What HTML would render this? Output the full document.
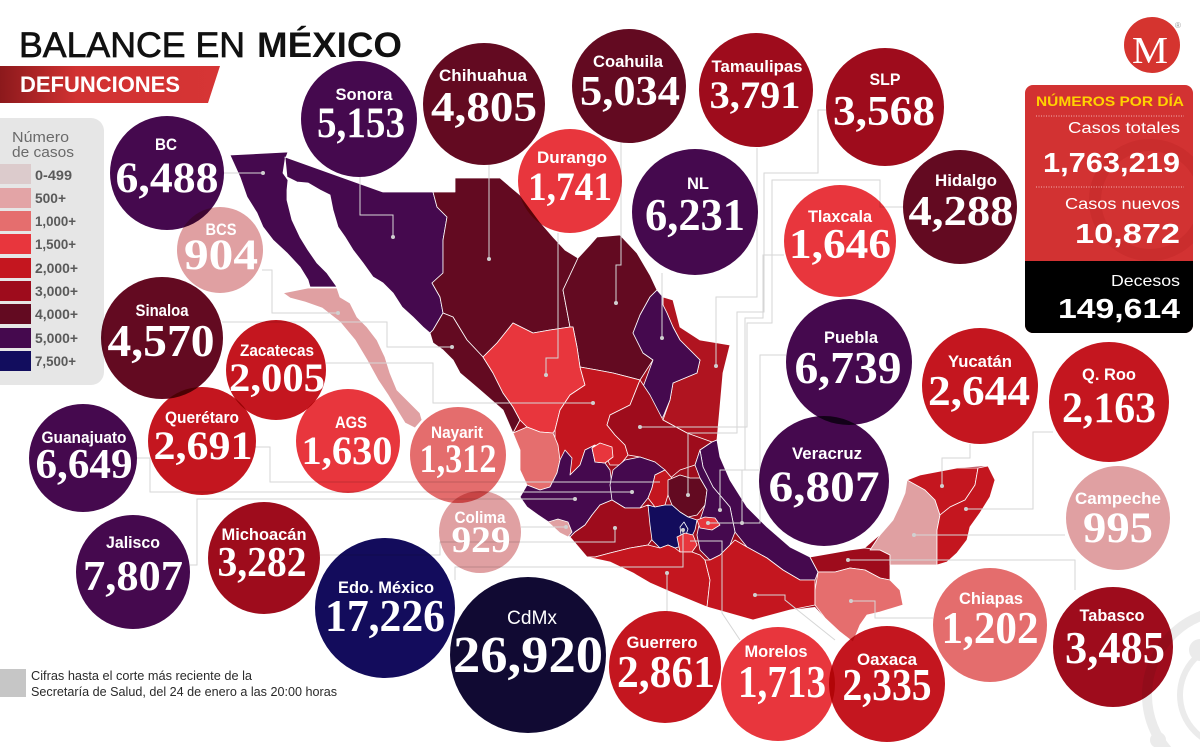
<!DOCTYPE html>
<html><head><meta charset="utf-8"><style>
html,body{margin:0;padding:0;background:#fff;}
svg{display:block;}
.lab{font-family:"Liberation Sans",sans-serif;font-weight:bold;fill:#fff;text-anchor:middle;}
.num{font-family:"Liberation Serif",serif;font-weight:bold;fill:#fff;text-anchor:middle;}
.st{stroke:#fff;stroke-width:0.8;stroke-linejoin:round;}
.ln{fill:none;stroke:#d6d6d6;stroke-width:1;}
.c{mix-blend-mode:multiply;}
.leg{font-family:"Liberation Sans",sans-serif;font-weight:bold;fill:#5a5a5a;font-size:14px;}
</style></head><body>
<svg width="1200" height="747" viewBox="0 0 1200 747" xmlns="http://www.w3.org/2000/svg">
<defs>
<linearGradient id="bg" x1="0" y1="0" x2="1" y2="0">
<stop offset="0" stop-color="#8c191c"/><stop offset="0.35" stop-color="#d13232"/><stop offset="1" stop-color="#d63535"/>
</linearGradient>
<clipPath id="pc"><rect x="1025" y="85" width="168" height="248" rx="8"/></clipPath>
</defs>

<!-- bottom-right faint graphic -->
<circle cx="1232" cy="695" r="85" fill="none" stroke="#ebebeb" stroke-width="10"/>
<circle cx="1232" cy="695" r="52" fill="none" stroke="#ebebeb" stroke-width="6"/>
<circle cx="1200" cy="650" r="11" fill="#ebebeb"/>
<circle cx="1158" cy="740" r="8" fill="#ebebeb"/>

<!-- title -->
<text x="19" y="57" font-family="Liberation Sans, sans-serif" font-size="35" fill="#111" stroke="#111" stroke-width="0.7" textLength="226" lengthAdjust="spacingAndGlyphs">BALANCE EN</text>
<text x="257" y="57" font-family="Liberation Sans, sans-serif" font-weight="bold" font-size="35" fill="#111" textLength="145" lengthAdjust="spacingAndGlyphs">MÉXICO</text>
<polygon points="0,66 220,66 208,103 0,103" fill="url(#bg)"/>
<text x="20" y="92" font-family="Liberation Sans, sans-serif" font-weight="bold" font-size="22" fill="#fff" textLength="160" lengthAdjust="spacingAndGlyphs">DEFUNCIONES</text>

<!-- legend -->
<rect x="-20" y="118" width="124" height="267" rx="13" fill="#e6e6e6"/>
<text x="12" y="142" font-family="Liberation Sans, sans-serif" font-size="15" fill="#6a6a6a" textLength="57" lengthAdjust="spacingAndGlyphs">Número</text>
<text x="12" y="157" font-family="Liberation Sans, sans-serif" font-size="15" fill="#6a6a6a" textLength="62" lengthAdjust="spacingAndGlyphs">de casos</text>
<rect x="0" y="164" width="31" height="20" fill="#dccbcc"/>
<rect x="0" y="188" width="31" height="20" fill="#e3a4a6"/>
<rect x="0" y="211" width="31" height="20" fill="#e56e6e"/>
<rect x="0" y="234" width="31" height="20" fill="#e8363d"/>
<rect x="0" y="258" width="31" height="20" fill="#c4161f"/>
<rect x="0" y="281" width="31" height="20" fill="#9e0c1c"/>
<rect x="0" y="304" width="31" height="20" fill="#630a21"/>
<rect x="0" y="328" width="31" height="20" fill="#45094e"/>
<rect x="0" y="351" width="31" height="20" fill="#120d5e"/>
<text class="leg" x="35" y="180" textLength="37" lengthAdjust="spacingAndGlyphs">0-499</text>
<text class="leg" x="35" y="203" textLength="31" lengthAdjust="spacingAndGlyphs">500+</text>
<text class="leg" x="35" y="226" textLength="41" lengthAdjust="spacingAndGlyphs">1,000+</text>
<text class="leg" x="35" y="249" textLength="41" lengthAdjust="spacingAndGlyphs">1,500+</text>
<text class="leg" x="35" y="273" textLength="43" lengthAdjust="spacingAndGlyphs">2,000+</text>
<text class="leg" x="35" y="296" textLength="43" lengthAdjust="spacingAndGlyphs">3,000+</text>
<text class="leg" x="35" y="319" textLength="43" lengthAdjust="spacingAndGlyphs">4,000+</text>
<text class="leg" x="35" y="343" textLength="43" lengthAdjust="spacingAndGlyphs">5,000+</text>
<text class="leg" x="35" y="366" textLength="41" lengthAdjust="spacingAndGlyphs">7,500+</text>

<!-- MAP -->
<g>
<polygon fill="#9e0c1c" points="285,157 383,192 455,192 455,178 500,178 520,195 540,222 553,237 565,250 578,258 590,245 597,237 620,235 637,253 650,275 657,290 663,297 673,300 680,327 700,340 730,345 723,373 720,407 717,440 720,457 730,480 747,507 767,527 790,547 810,557 833,553 850,550 865,548 880,535 893,520 900,505 905,493 907,480 920,475 957,468 988,466 995,480 990,497 980,513 970,527 967,540 957,553 947,562 937,565 890,565 890,580 900,590 903,605 880,612 867,615 860,625 853,642 840,632 825,618 815,607 790,610 753,620 707,607 690,600 673,593 650,583 633,573 610,562 587,557 570,537 560,532 548,522 538,515 527,507 520,497 527,485 520,470 520,450 513,433 503,410 480,390 460,373 453,360 443,350 433,343 430,333 423,327 413,317 402,307 393,293 383,283 373,277 363,263 353,250 345,237 338,227 333,210 330,195 320,190 308,183 297,182 287,177"/>
<polygon class="st" fill="#45094e" points="230,155 288,152 285,160 283,173 288,180 287,190 287,200 292,220 300,237 308,250 317,263 327,273 337,287 310,287 308,280 300,267 287,253 273,240 263,227 257,213 247,197 240,177"/>
<polygon class="st" fill="#e0a0a2" points="283,293 308,288 337,288 340,297 350,303 357,317 367,327 377,340 385,357 390,373 397,390 410,403 420,413 422,420 415,428 405,423 397,410 388,395 378,380 367,360 355,340 340,322 322,308 305,302 290,298"/>
<polygon class="st" fill="#45094e" points="285,157 383,192 433,192 437,207 447,217 443,240 443,273 432,283 440,297 443,313 433,330 430,333 423,327 413,317 402,307 393,293 383,283 373,277 363,263 353,250 345,237 338,227 333,210 330,195 320,190 308,183 297,182 287,177"/>
<polygon class="st" fill="#630a21" points="433,192 455,192 455,178 500,178 520,195 540,222 553,237 565,250 578,258 563,290 570,327 550,330 533,333 513,323 497,343 483,357 467,340 453,317 443,313 440,297 432,283 443,273 443,240 447,217 437,207"/>
<polygon class="st" fill="#630a21" points="430,333 433,330 443,313 453,317 467,340 483,357 493,373 503,393 513,407 520,420 513,433 503,410 480,390 460,373 453,360 443,350 433,343"/>
<polygon class="st" fill="#630a21" points="578,258 590,245 597,237 620,235 637,253 650,275 657,290 650,297 640,315 633,333 643,353 653,360 640,380 613,373 597,370 580,367 577,347 573,327 570,327 563,290"/>
<polygon class="st" fill="#e8363d" points="483,357 497,343 513,323 533,333 550,330 570,327 573,327 577,347 580,367 585,385 570,395 560,410 555,430 553,433 540,432 527,427 520,420 513,407 503,393 493,373"/>
<polygon class="st" fill="#b01420" points="663,297 673,300 680,327 700,340 730,345 723,373 720,407 717,440 712,442 700,440 687,433 663,420 670,400 673,383 697,373 700,360 680,340 673,327 667,313 663,305"/>
<polygon class="st" fill="#45094e" points="657,290 663,297 663,305 667,313 673,327 680,340 700,360 697,373 673,383 670,400 663,417 650,420 647,400 643,387 653,360 643,353 633,333 640,315 650,297"/>
<polygon class="st" fill="#c4161f" points="580,367 597,370 613,373 640,380 630,405 610,415 607,425 615,435 625,445 628,455 620,465 610,465 605,455 595,445 585,450 580,465 570,475 560,465 555,445 555,430 560,410 570,395 585,385"/>
<polygon class="st" fill="#9e0c1c" points="640,380 650,395 663,420 687,433 712,442 700,450 695,465 680,470 668,480 665,470 655,462 640,457 628,455 625,445 615,435 607,425 610,415 630,405"/>
<polygon class="st" fill="#e56e6e" points="513,433 527,427 540,432 553,433 558,445 560,460 557,473 550,487 540,490 527,485 520,470 520,450"/>
<polygon class="st" fill="#45094e" points="520,497 527,485 540,490 550,487 557,473 560,460 565,450 572,458 570,475 580,465 585,450 595,445 592,448 595,462 605,463 610,470 612,485 612,500 600,505 592,515 585,525 575,532 570,537 560,530 550,523 538,515 527,507"/>
<polygon class="st" fill="#e8363d" points="592,448 600,443 612,447 613,457 605,463 595,462"/>
<polygon class="st" fill="#45094e" points="613,470 625,460 640,457 655,462 665,470 655,475 652,488 648,498 640,508 625,508 612,500 610,485"/>
<polygon class="st" fill="#c4161f" points="655,475 665,470 672,478 668,495 665,505 655,507 648,498 652,488"/>
<polygon class="st" fill="#630a21" points="668,480 680,475 690,478 700,478 707,490 705,505 697,515 688,517 680,512 672,505 668,495"/>
<polygon class="st" fill="#9e0c1c" points="570,537 575,532 585,525 592,515 600,505 612,500 625,508 640,508 648,505 650,520 655,535 648,545 630,548 610,553 595,557 587,557"/>
<polygon class="st" fill="#e0a0a2" points="548,522 558,519 568,522 572,532 568,537 560,533"/>
<polygon class="st" fill="#45094e" points="712,442 717,440 720,457 730,480 747,507 767,527 790,547 810,557 818,572 815,580 800,580 783,570 767,558 747,547 735,532 730,507 713,487 703,467 700,450"/>
<polygon class="st" fill="#45094e" points="700,450 703,467 713,487 730,507 735,532 730,545 720,555 710,560 700,550 697,535 700,520 705,505 707,490 700,478 695,465"/>
<polygon class="st" fill="#130c5c" points="648,505 655,507 665,505 672,505 680,512 688,517 697,520 695,530 690,540 685,545 675,548 668,545 660,548 652,540 650,525"/>
<polygon class="st" fill="#130c5c" points="680,527 684,522 688,529 686,535 681,535"/>
<polygon class="st" fill="#e8363d" points="677,537 685,533 693,535 697,545 692,552 680,552"/>
<polygon class="st" fill="#e8363d" points="697,520 705,517 715,518 720,525 712,530 700,528"/>
<polygon class="st" fill="#c4161f" points="587,557 595,557 610,553 630,548 648,545 660,548 668,545 675,548 680,552 692,552 700,555 705,560 710,580 707,607 690,600 673,593 650,583 633,573 610,562"/>
<polygon class="st" fill="#c4161f" points="705,560 710,560 720,555 730,545 735,540 747,547 767,558 783,570 800,580 815,580 815,590 815,605 790,610 753,620 707,607 710,580"/>
<polygon class="st" fill="#9e0c1c" points="810,557 833,553 850,550 865,548 880,550 890,555 890,580 880,578 865,570 850,568 835,572 818,572"/>
<polygon class="st" fill="#e56e6e" points="818,572 835,572 850,568 865,570 880,578 890,580 900,590 903,605 880,612 867,615 860,625 853,642 840,632 825,618 815,605 815,590"/>
<polygon class="st" fill="#e0a0a2" points="907,480 920,475 925,490 935,500 940,515 937,530 937,565 890,565 890,555 880,550 870,550 880,535 893,520 900,505 905,493"/>
<polygon class="st" fill="#c4161f" points="907,480 920,475 957,468 978,468 975,485 965,500 950,507 940,515 935,500 925,490"/>
<polygon class="st" fill="#c4161f" points="978,468 988,466 995,480 990,497 980,513 970,527 967,540 957,553 947,562 937,565 937,530 940,515 950,507 965,500 975,485"/>
</g>

<!-- connector lines -->
<g class="ln">
<polyline points="224,173 263,173"/>
<polyline points="360,177 360,215 393,215 393,237"/>
<polyline points="489,165 489,259"/>
<polyline points="262,270 272,270 272,313 338,313"/>
<polyline points="222,322 387,322 387,347 452,347"/>
<polyline points="558,233 558,358 546,358 546,375"/>
<polyline points="621,142 621,265 616,265 616,303"/>
<polyline points="662,273 662,338"/>
<polyline points="326,363 433,363 433,403 593,403"/>
<polyline points="757,148 757,297 716,297 716,366"/>
<polyline points="826,110 818,110 818,173 764,173 764,312 737,312 737,433 688,433 688,495"/>
<polyline points="903,207 880,207 880,180 772,180 772,323 747,323 747,427 640,427"/>
<polyline points="784,255 763,255 763,318 745,318 745,470 720,470 720,510"/>
<polyline points="786,355 760,355 760,523 708,523"/>
<polyline points="759,470 742,470 742,523"/>
<polyline points="137,458 150,458 150,492 632,492"/>
<polyline points="255,447 270,447 270,482 660,482"/>
<polyline points="190,565 197,565 197,499 575,499"/>
<polyline points="320,555 440,555 440,542 615,542 615,528"/>
<polyline points="521,527 566,527"/>
<polyline points="455,580 455,567 683,567 683,530"/>
<polyline points="667,573 667,612"/>
<polyline points="690,541 722,541 722,613 740,640"/>
<polyline points="755,595 785,595 785,600 835,640"/>
<polyline points="851,601 875,601 875,618 933,618"/>
<polyline points="914,535 1065,535"/>
<polyline points="966,509 1033,509 1033,432 1053,432"/>
<polyline points="942,486 942,458 970,458 970,444"/>
<polyline points="848,560 1075,560 1075,590"/>
</g>
<g fill="#d0d0d0">
<circle cx="263" cy="173" r="2"/><circle cx="393" cy="237" r="2"/><circle cx="489" cy="259" r="2"/>
<circle cx="338" cy="313" r="2"/><circle cx="452" cy="347" r="2"/><circle cx="546" cy="375" r="2"/>
<circle cx="616" cy="303" r="2"/><circle cx="662" cy="338" r="2"/><circle cx="593" cy="403" r="2"/>
<circle cx="716" cy="366" r="2"/><circle cx="688" cy="495" r="2"/><circle cx="640" cy="427" r="2"/>
<circle cx="632" cy="492" r="2"/><circle cx="575" cy="499" r="2"/><circle cx="615" cy="528" r="2"/>
<circle cx="566" cy="527" r="2"/><circle cx="683" cy="530" r="2"/><circle cx="667" cy="573" r="2"/>
<circle cx="755" cy="595" r="2"/><circle cx="851" cy="601" r="2"/><circle cx="914" cy="535" r="2"/>
<circle cx="966" cy="509" r="2"/><circle cx="942" cy="486" r="2"/><circle cx="848" cy="560" r="2"/>
<circle cx="708" cy="523" r="2"/><circle cx="742" cy="523" r="2"/><circle cx="720" cy="510" r="2"/>
</g>

<!-- circles -->
<g>
<circle class="c" cx="167" cy="173" r="57" fill="#45094e"/>
<circle class="c" cx="359" cy="119" r="58" fill="#45094e"/>
<circle class="c" cx="220" cy="250" r="43" fill="#e0a0a2"/>
<circle class="c" cx="162" cy="338" r="61" fill="#630a21"/>
<circle class="c" cx="276" cy="370" r="50" fill="#c4161f"/>
<circle class="c" cx="348" cy="441" r="52" fill="#e8363d"/>
<circle class="c" cx="458" cy="455" r="48" fill="#e46d6d"/>
<circle class="c" cx="480" cy="532" r="41" fill="#e0a0a2"/>
<circle class="c" cx="570" cy="181" r="52" fill="#e8363d"/>
<circle class="c" cx="695" cy="212" r="63" fill="#45094e"/>
<circle class="c" cx="484" cy="104" r="61" fill="#630a21"/>
<circle class="c" cx="629" cy="86" r="57" fill="#630a21"/>
<circle class="c" cx="756" cy="90" r="57" fill="#9e0c1c"/>
<circle class="c" cx="885" cy="107" r="59" fill="#9e0c1c"/>
<circle class="c" cx="960" cy="207" r="57" fill="#630a21"/>
<circle class="c" cx="840" cy="241" r="56" fill="#e8363d"/>
<circle class="c" cx="849" cy="362" r="63" fill="#45094e"/>
<circle class="c" cx="824" cy="481" r="65" fill="#45094e"/>
<circle class="c" cx="980" cy="386" r="58" fill="#c4161f"/>
<circle class="c" cx="1109" cy="402" r="60" fill="#c4161f"/>
<circle class="c" cx="1118" cy="518" r="52" fill="#e0a0a2"/>
<circle class="c" cx="990" cy="625" r="57" fill="#e46d6d"/>
<circle class="c" cx="1113" cy="647" r="60" fill="#9e0c1c"/>
<circle class="c" cx="887" cy="684" r="58" fill="#c4161f"/>
<circle class="c" cx="778" cy="684" r="57" fill="#e8363d"/>
<circle class="c" cx="665" cy="667" r="56" fill="#c4161f"/>
<circle class="c" cx="528" cy="655" r="78" fill="#110a33"/>
<circle class="c" cx="385" cy="608" r="70" fill="#130c5c"/>
<circle class="c" cx="264" cy="558" r="56" fill="#9e0c1c"/>
<circle class="c" cx="133" cy="572" r="57" fill="#45094e"/>
<circle class="c" cx="83" cy="458" r="54" fill="#45094e"/>
<circle class="c" cx="202" cy="441" r="54" fill="#c4161f"/>
</g>

<!-- labels -->
<g>
<text class="lab" x="166" y="150" font-size="17" textLength="22" lengthAdjust="spacingAndGlyphs">BC</text>
<text class="num" x="167" y="192" font-size="43" textLength="103" lengthAdjust="spacingAndGlyphs">6,488</text>
<text class="lab" x="364" y="100" font-size="17" textLength="57" lengthAdjust="spacingAndGlyphs">Sonora</text>
<text class="num" x="361" y="137" font-size="43" textLength="88" lengthAdjust="spacingAndGlyphs">5,153</text>
<text class="lab" x="221" y="235" font-size="17" textLength="31" lengthAdjust="spacingAndGlyphs">BCS</text>
<text class="num" x="221" y="269" font-size="43" textLength="74" lengthAdjust="spacingAndGlyphs">904</text>
<text class="lab" x="162" y="316" font-size="17" textLength="53" lengthAdjust="spacingAndGlyphs">Sinaloa</text>
<text class="num" x="161" y="356" font-size="46" textLength="107" lengthAdjust="spacingAndGlyphs">4,570</text>
<text class="lab" x="277" y="356" font-size="17" textLength="74" lengthAdjust="spacingAndGlyphs">Zacatecas</text>
<text class="num" x="277" y="391" font-size="40" textLength="96" lengthAdjust="spacingAndGlyphs">2,005</text>
<text class="lab" x="351" y="428" font-size="17" textLength="32" lengthAdjust="spacingAndGlyphs">AGS</text>
<text class="num" x="347" y="464" font-size="40" textLength="91" lengthAdjust="spacingAndGlyphs">1,630</text>
<text class="lab" x="457" y="438" font-size="17" textLength="52" lengthAdjust="spacingAndGlyphs">Nayarit</text>
<text class="num" x="458" y="472" font-size="40" textLength="77" lengthAdjust="spacingAndGlyphs">1,312</text>
<text class="lab" x="480" y="523" font-size="17" textLength="51" lengthAdjust="spacingAndGlyphs">Colima</text>
<text class="num" x="481" y="552" font-size="37" textLength="59" lengthAdjust="spacingAndGlyphs">929</text>
<text class="lab" x="572" y="163" font-size="17" textLength="70" lengthAdjust="spacingAndGlyphs">Durango</text>
<text class="num" x="570" y="200" font-size="40" textLength="84" lengthAdjust="spacingAndGlyphs">1,741</text>
<text class="lab" x="698" y="189" font-size="17" textLength="22" lengthAdjust="spacingAndGlyphs">NL</text>
<text class="num" x="695" y="230" font-size="45" textLength="100" lengthAdjust="spacingAndGlyphs">6,231</text>
<text class="lab" x="483" y="81" font-size="17" textLength="88" lengthAdjust="spacingAndGlyphs">Chihuahua</text>
<text class="num" x="484" y="121" font-size="42" textLength="106" lengthAdjust="spacingAndGlyphs">4,805</text>
<text class="lab" x="628" y="67" font-size="17" textLength="70" lengthAdjust="spacingAndGlyphs">Coahuila</text>
<text class="num" x="630" y="105" font-size="42" textLength="100" lengthAdjust="spacingAndGlyphs">5,034</text>
<text class="lab" x="757" y="72" font-size="17" textLength="91" lengthAdjust="spacingAndGlyphs">Tamaulipas</text>
<text class="num" x="755" y="108" font-size="39" textLength="91" lengthAdjust="spacingAndGlyphs">3,791</text>
<text class="lab" x="885" y="85" font-size="17" textLength="31" lengthAdjust="spacingAndGlyphs">SLP</text>
<text class="num" x="884" y="125" font-size="42" textLength="102" lengthAdjust="spacingAndGlyphs">3,568</text>
<text class="lab" x="966" y="186" font-size="17" textLength="62" lengthAdjust="spacingAndGlyphs">Hidalgo</text>
<text class="num" x="961" y="225" font-size="42" textLength="105" lengthAdjust="spacingAndGlyphs">4,288</text>
<text class="lab" x="840" y="222" font-size="17" textLength="64" lengthAdjust="spacingAndGlyphs">Tlaxcala</text>
<text class="num" x="840" y="258" font-size="42" textLength="102" lengthAdjust="spacingAndGlyphs">1,646</text>
<text class="lab" x="851" y="343" font-size="17" textLength="54" lengthAdjust="spacingAndGlyphs">Puebla</text>
<text class="num" x="848" y="383" font-size="46" textLength="107" lengthAdjust="spacingAndGlyphs">6,739</text>
<text class="lab" x="827" y="459" font-size="17" textLength="70" lengthAdjust="spacingAndGlyphs">Veracruz</text>
<text class="num" x="824" y="501" font-size="43" textLength="111" lengthAdjust="spacingAndGlyphs">6,807</text>
<text class="lab" x="980" y="367" font-size="17" textLength="64" lengthAdjust="spacingAndGlyphs">Yucatán</text>
<text class="num" x="979" y="405" font-size="42" textLength="102" lengthAdjust="spacingAndGlyphs">2,644</text>
<text class="lab" x="1109" y="380" font-size="17" textLength="54" lengthAdjust="spacingAndGlyphs">Q. Roo</text>
<text class="num" x="1109" y="422" font-size="43" textLength="94" lengthAdjust="spacingAndGlyphs">2,163</text>
<text class="lab" x="1118" y="504" font-size="17" textLength="86" lengthAdjust="spacingAndGlyphs">Campeche</text>
<text class="num" x="1118" y="542" font-size="43" textLength="70" lengthAdjust="spacingAndGlyphs">995</text>
<text class="lab" x="991" y="604" font-size="17" textLength="64" lengthAdjust="spacingAndGlyphs">Chiapas</text>
<text class="num" x="990" y="643" font-size="45" textLength="97" lengthAdjust="spacingAndGlyphs">1,202</text>
<text class="lab" x="1112" y="621" font-size="17" textLength="65" lengthAdjust="spacingAndGlyphs">Tabasco</text>
<text class="num" x="1115" y="663" font-size="45" textLength="100" lengthAdjust="spacingAndGlyphs">3,485</text>
<text class="lab" x="887" y="665" font-size="17" textLength="60" lengthAdjust="spacingAndGlyphs">Oaxaca</text>
<text class="num" x="887" y="700" font-size="45" textLength="89" lengthAdjust="spacingAndGlyphs">2,335</text>
<text class="lab" x="776" y="657" font-size="17" textLength="63" lengthAdjust="spacingAndGlyphs">Morelos</text>
<text class="num" x="782" y="697" font-size="45" textLength="88" lengthAdjust="spacingAndGlyphs">1,713</text>
<text class="lab" x="662" y="648" font-size="17" textLength="71" lengthAdjust="spacingAndGlyphs">Guerrero</text>
<text class="num" x="666" y="687" font-size="45" textLength="98" lengthAdjust="spacingAndGlyphs">2,861</text>
<text x="532" y="624" font-family="Liberation Sans, sans-serif" font-size="19" fill="#fff" text-anchor="middle" textLength="50" lengthAdjust="spacingAndGlyphs">CdMx</text>
<text class="num" x="528" y="672" font-size="52" textLength="150" lengthAdjust="spacingAndGlyphs">26,920</text>
<text class="lab" x="386" y="593" font-size="17" textLength="96" lengthAdjust="spacingAndGlyphs">Edo. México</text>
<text class="num" x="385" y="631" font-size="46" textLength="120" lengthAdjust="spacingAndGlyphs">17,226</text>
<text class="lab" x="264" y="540" font-size="17" textLength="85" lengthAdjust="spacingAndGlyphs">Michoacán</text>
<text class="num" x="262" y="576" font-size="42" textLength="89" lengthAdjust="spacingAndGlyphs">3,282</text>
<text class="lab" x="133" y="548" font-size="17" textLength="54" lengthAdjust="spacingAndGlyphs">Jalisco</text>
<text class="num" x="133" y="590" font-size="42" textLength="100" lengthAdjust="spacingAndGlyphs">7,807</text>
<text class="lab" x="84" y="443" font-size="17" textLength="85" lengthAdjust="spacingAndGlyphs">Guanajuato</text>
<text class="num" x="84" y="478" font-size="42" textLength="97" lengthAdjust="spacingAndGlyphs">6,649</text>
<text class="lab" x="202" y="423" font-size="17" textLength="74" lengthAdjust="spacingAndGlyphs">Querétaro</text>
<text class="num" x="203" y="459" font-size="40" textLength="99" lengthAdjust="spacingAndGlyphs">2,691</text>
</g>

<!-- logo -->
<circle cx="1152" cy="45" r="28" fill="#d5342f"/>
<text x="1150" y="63" font-family="Liberation Serif, serif" font-size="38" fill="#fff" text-anchor="middle" textLength="36" lengthAdjust="spacingAndGlyphs">M</text>
<text x="1178" y="28" font-family="Liberation Sans, sans-serif" font-size="8" fill="#999" text-anchor="middle">®</text>

<!-- right panel -->
<g clip-path="url(#pc)">
<rect x="1025" y="85" width="168" height="248" fill="#d23232"/>
<circle cx="1150" cy="200" r="55" fill="none" stroke="#c42a2a" stroke-width="12" opacity="0.6"/>
<rect x="1025" y="261" width="168" height="72" fill="#000"/>
</g>
<text x="1036" y="106" font-family="Liberation Sans, sans-serif" font-weight="bold" font-size="14" fill="#ffd200" textLength="148" lengthAdjust="spacingAndGlyphs">NÚMEROS POR DÍA</text>
<line x1="1036" y1="116" x2="1184" y2="116" stroke="#f3b3b3" stroke-width="1" stroke-dasharray="1 1.5"/>
<line x1="1036" y1="187" x2="1184" y2="187" stroke="#f3b3b3" stroke-width="1" stroke-dasharray="1 1.5"/>
<g font-family="Liberation Sans, sans-serif" fill="#fff" text-anchor="end">
<text x="1180" y="133" font-size="16" textLength="112" lengthAdjust="spacingAndGlyphs">Casos totales</text>
<text x="1180" y="172" font-size="28" font-weight="bold" textLength="137" lengthAdjust="spacingAndGlyphs">1,763,219</text>
<text x="1180" y="209" font-size="16" textLength="115" lengthAdjust="spacingAndGlyphs">Casos nuevos</text>
<text x="1180" y="243" font-size="28" font-weight="bold" textLength="105" lengthAdjust="spacingAndGlyphs">10,872</text>
<text x="1180" y="286" font-size="16" textLength="69" lengthAdjust="spacingAndGlyphs">Decesos</text>
<text x="1180" y="318" font-size="28" font-weight="bold" textLength="122" lengthAdjust="spacingAndGlyphs">149,614</text>
</g>

<!-- footer -->
<rect x="0" y="669" width="26" height="28" fill="#c6c6c6"/>
<text x="31" y="680" font-family="Liberation Sans, sans-serif" font-size="12.5" fill="#2a2a2a" textLength="221" lengthAdjust="spacingAndGlyphs">Cifras hasta el corte más reciente de la</text>
<text x="31" y="696" font-family="Liberation Sans, sans-serif" font-size="12.5" fill="#2a2a2a" textLength="306" lengthAdjust="spacingAndGlyphs">Secretaría de Salud, del 24 de enero a las 20:00 horas</text>
</svg>
</body></html>
